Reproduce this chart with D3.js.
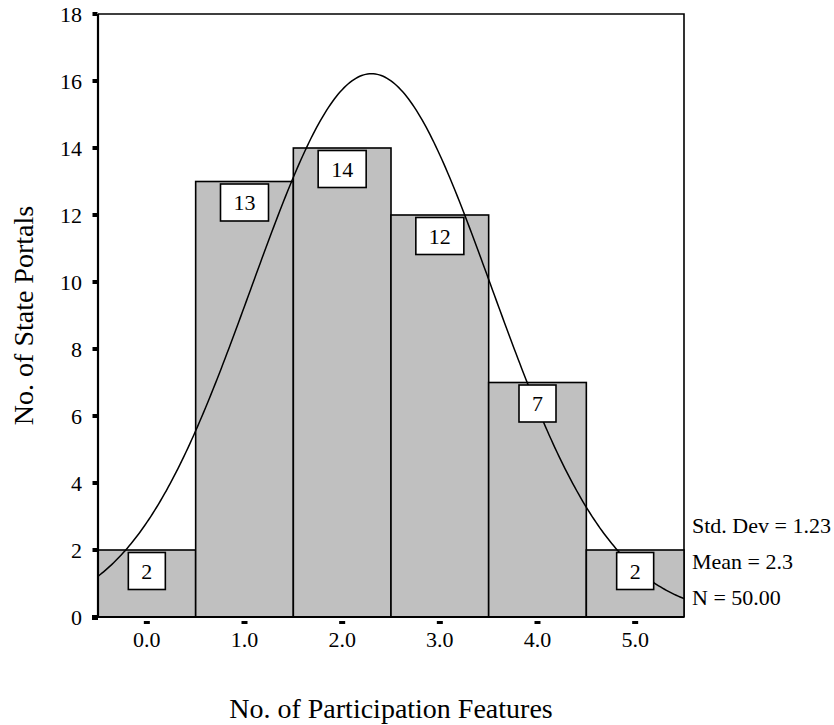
<!DOCTYPE html>
<html>
<head>
<meta charset="utf-8">
<script src="https://cdn.jsdelivr.net/npm/d3@7"></script>
<style>
  body { margin: 0; background: #fff; }
  text { font-family: "Liberation Serif", "Times New Roman", serif; fill: #000; }
</style>
</head>
<body>
<script>
// data
var bins = [0, 1, 2, 3, 4, 5];
var counts = [2, 13, 14, 12, 7, 2];
var binLabels = ["0.0", "1.0", "2.0", "3.0", "4.0", "5.0"];
var yTicks = [0, 2, 4, 6, 8, 10, 12, 14, 16, 18];
var statLabels = ["Std. Dev = 1.23", "Mean = 2.3", "N = 50.00"];
var stdDev = 1.23, mean = 2.3, nCases = 50, binWidth = 1;

var width = 834, height = 725;
var plotLeft = 98, plotRight = 684, plotTop = 14, plotBottom = 617;

var svg = d3.select("body").append("svg")
    .attr("width", width)
    .attr("height", height);

var x = d3.scaleLinear().domain([-0.5, 5.5]).range([plotLeft, plotRight]);
var y = d3.scaleLinear().domain([0, 18]).range([plotBottom, plotTop]);

// frame (top + right)
svg.append("path")
    .attr("d", "M" + plotLeft + "," + plotTop + "H" + plotRight + "V" + plotBottom)
    .attr("fill", "none").attr("stroke", "#000").attr("stroke-width", 1.6);

// bars
svg.selectAll("rect.bar").data(counts).enter().append("rect")
    .attr("class", "bar")
    .attr("x", function(d, i) { return x(bins[i] - 0.5); })
    .attr("y", function(d) { return y(d); })
    .attr("width", function(d, i) { return x(bins[i] + 0.5) - x(bins[i] - 0.5); })
    .attr("height", function(d) { return plotBottom - y(d); })
    .attr("fill", "#c0c0c0")
    .attr("stroke", "#000")
    .attr("stroke-width", 1.6);

// normal curve from mean / sd / N
var curvePts = d3.range(-0.5, 5.5001, 0.02).map(function(v) {
    var z = (v - mean) / stdDev;
    return [v, nCases * binWidth / (stdDev * Math.sqrt(2 * Math.PI)) * Math.exp(-0.5 * z * z)];
});
svg.append("path")
    .datum(curvePts)
    .attr("fill", "none")
    .attr("stroke", "#000")
    .attr("stroke-width", 1.5)
    .attr("d", d3.line().x(function(d) { return x(d[0]); }).y(function(d) { return y(d[1]); }));

// count labels in white boxes
var lab = svg.selectAll("g.lab").data(counts).enter().append("g").attr("class", "lab");
lab.each(function(d, i) {
    var g = d3.select(this);
    var t = g.append("text")
        .attr("x", x(bins[i]))
        .attr("y", y(d) + 2.5 + 18.5)
        .attr("dy", "0.35em")
        .attr("text-anchor", "middle")
        .style("font-size", "22px")
        .text(d);
    var w = t.node().getComputedTextLength() + 26;
    g.insert("rect", "text")
        .attr("x", x(bins[i]) - w / 2)
        .attr("y", y(d) + 2.5)
        .attr("width", w)
        .attr("height", 37)
        .attr("fill", "#fff")
        .attr("stroke", "#000")
        .attr("stroke-width", 1.6);
});

// axes
var yAxis = svg.append("g");
yAxis.append("line")
    .attr("x1", plotLeft).attr("x2", plotLeft).attr("y1", plotTop).attr("y2", plotBottom)
    .attr("stroke", "#000").attr("stroke-width", 2.2);
yAxis.selectAll("rect").data(yTicks).enter().append("rect")
    .attr("x", plotLeft - 5.5).attr("y", function(d) { return y(d) - 2; })
    .attr("width", 5).attr("height", 4).attr("fill", "#000");
yAxis.selectAll("text").data(yTicks).enter().append("text")
    .attr("x", 82).attr("y", function(d) { return y(d); })
    .attr("dy", "0.35em")
    .attr("text-anchor", "end")
    .style("font-size", "22px")
    .text(function(d) { return d; });

var xAxis = svg.append("g");
xAxis.append("line")
    .attr("x1", plotLeft - 6).attr("x2", plotRight).attr("y1", plotBottom).attr("y2", plotBottom)
    .attr("stroke", "#000").attr("stroke-width", 2.2);
xAxis.append("rect").attr("x", plotLeft - 6).attr("y", plotBottom - 2).attr("width", 6).attr("height", 5).attr("fill", "#000");
xAxis.selectAll("rect.tk").data(bins).enter().append("rect")
    .attr("class", "tk")
    .attr("x", function(d) { return x(d) - 3; }).attr("y", plotBottom + 4)
    .attr("width", 6).attr("height", 3).attr("fill", "#000");
xAxis.selectAll("text").data(bins).enter().append("text")
    .attr("x", function(d) { return x(d); }).attr("y", 647)
    .attr("text-anchor", "middle")
    .style("font-size", "22px")
    .text(function(d, i) { return binLabels[i]; });

// axis titles
svg.append("text")
    .attr("x", (plotLeft + plotRight) / 2).attr("y", 718)
    .attr("text-anchor", "middle")
    .style("font-size", "28px")
    .text("No. of Participation Features");

svg.append("text")
    .attr("transform", "translate(33," + ((plotTop + plotBottom) / 2) + ") rotate(-90)")
    .attr("text-anchor", "middle")
    .style("font-size", "28px")
    .text("No. of State Portals");

// stats
svg.selectAll("text.stat").data(statLabels).enter().append("text")
    .attr("class", "stat")
    .attr("x", 692)
    .attr("y", function(d, i) { return 533 + i * 36; })
    .style("font-size", "22px")
    .text(function(d) { return d; });
</script>
</body>
</html>
